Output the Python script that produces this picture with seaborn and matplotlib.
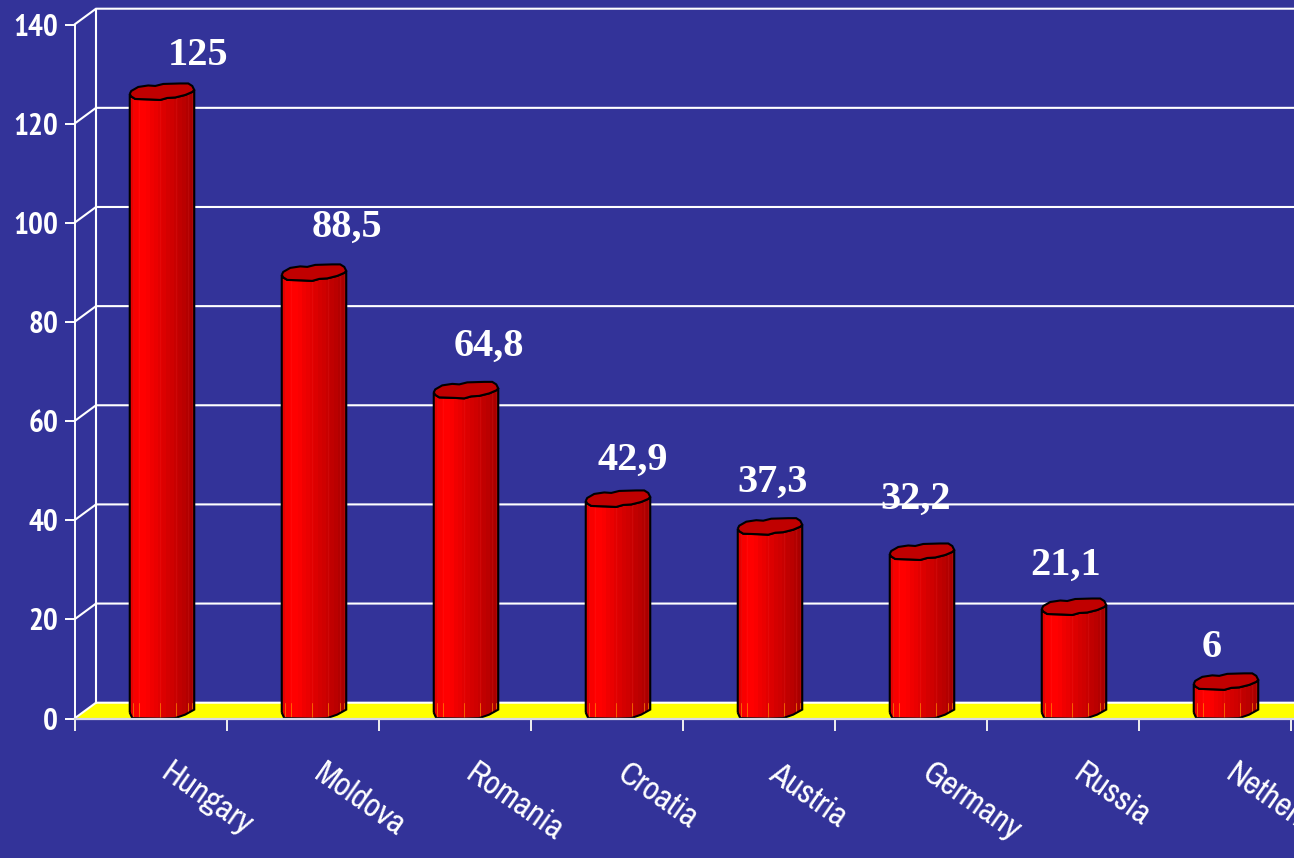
import numpy as np
import pandas as pd
import matplotlib
matplotlib.use("Agg")
import matplotlib.pyplot as plt
import seaborn as sns
from matplotlib.path import Path
from matplotlib.patches import PathPatch
from matplotlib.colors import to_rgb
from matplotlib.transforms import Affine2D, IdentityTransform

countries = ["Hungary", "Moldova", "Romania", "Croatia", "Austria", "Germany", "Russia", "Netherlands"]
values = [125, 88.5, 64.8, 42.9, 37.3, 32.2, 21.1, 6]
y_ticks = [0, 20, 40, 60, 80, 100, 120, 140]

# value label nudges from each cylinder's top, in pixels
label_dx = [37, 34, 24, 16, 3, -6, -8, -14]
label_dy = [35, 45, 43, 38, 43, 52, 41, 33]

NAVY = "#333399"
W, H, DPI = 1294, 858, 100
sns.set_theme(style="white", rc={"axes.facecolor": NAVY, "figure.facecolor": NAVY})
plt.rcParams["font.family"] = ["Archivo Narrow", "Liberation Sans"]
TICK_FONT = ["PT Sans Narrow", "Liberation Sans"]

fig = plt.figure(figsize=(W / DPI, H / DPI), dpi=DPI)
left, right, y0px, y140px = 74.5, 1294, 718.5, 24.5
ax = fig.add_axes([left / W, (H - y0px) / H, (right - left) / W, (y0px - y140px) / H])

PX_X = 152.0
PX_Y = (y0px - y140px) / 140
XMAX = -0.5 + (right - left) / PX_X
depth_x, depth_y = 21.5 / PX_X, 15.8 / PX_Y


def set_limits():
    ax.set_xlim(-0.5, XMAX)
    ax.set_ylim(0, 140)


df = pd.DataFrame({"country": countries, "value": values})
sns.barplot(data=df, x="country", y="value", color="#ff0000", saturation=1,
            width=64 / PX_X, ax=ax, zorder=4)
set_limits()

# back wall and floor of the oblique box
ax.fill([-0.5, XMAX + 1, XMAX + 1, -0.5 + depth_x], [0, 0, depth_y, depth_y],
        color="#ffff00", zorder=1, lw=0)
for t in y_ticks:
    ax.plot([-0.5, -0.5 + depth_x, XMAX + 1], [t, t + depth_y, t + depth_y],
            color="white", lw=1.5, zorder=2, clip_on=False, solid_joinstyle="miter")
ax.plot([-0.5 + depth_x] * 2, [depth_y, 140 + depth_y], color="white", lw=1.5, zorder=2, clip_on=False)

# cylinder outlines, pixel offsets with y pointing down
cap_top = [(-32.5, 2), (-31, -1), (-24, -5), (-14, -6.5), (-7, -6), (1, -8), (18, -8.5),
           (26, -8.5), (30, -6), (32, -2)]
cap_low = [(30, 0), (23, 3), (13, 5.5), (5, 6), (-2, 8), (-12, 7.5), (-27, 7), (-31, 4.5)]
base = [(-32.5, 2), (-30, 7.5), (-2, 8), (13, 7.5), (23, 4), (32, -1)]

stops = ["#e60000", "#f80000", "#ff0000", "#ff0000", "#fa0000", "#f00000", "#ea0000", "#e20000",
         "#dc0000", "#d40000", "#cf0000", "#c80000", "#c00000", "#ba0000", "#b20000", "#a80000"]
shade = np.array([[to_rgb(c) for c in stops]])
facets = [0.05, 0.13, 0.47, 0.72, 0.9, 0.97]

for bar, value in zip(list(ax.patches), values):
    # the seaborn bar stands at mid depth of the box
    bar.set_x(bar.get_x() + depth_x / 2 + 1 / PX_X)
    bar.set_y(depth_y / 2)
    bar.set_linewidth(0)
    cx = bar.get_x() + bar.get_width() / 2

    tx, ty = ax.transData.transform((cx, value + depth_y / 2))
    bx, by = ax.transData.transform((cx, depth_y / 2))
    ty -= 1
    to_screen_top = Affine2D().scale(1, -1).translate(tx, ty)
    to_screen_base = Affine2D().scale(1, -1).translate(bx, by)

    outline = np.vstack([to_screen_base.transform(base),
                         to_screen_top.transform([(32, -2)] + cap_low + [(-32.5, 2)])])
    body = Path(np.vstack([outline, outline[:1]]))
    bar.set_clip_path(body, IdentityTransform())

    image = ax.imshow(shade, extent=(bar.get_x(), bar.get_x() + bar.get_width(), -3, value + 6),
                      aspect="auto", interpolation="nearest", zorder=4.1)
    image.set_clip_path(body, IdentityTransform())
    set_limits()

    # facet seams: the floor glows through them near the base
    for f in facets:
        xf = bar.get_x() + f * bar.get_width()
        top_f = value + depth_y / 2
        low, = ax.plot([xf, xf], [0, min(depth_y, top_f)], color="#ff8a00", lw=0.7, alpha=0.7, zorder=4.2)
        low.set_clip_path(body, IdentityTransform())
        if top_f > depth_y:
            high, = ax.plot([xf, xf], [depth_y, top_f], color="#ff5050", lw=0.6, alpha=0.12, zorder=4.2)
            high.set_clip_path(body, IdentityTransform())

    ax.add_patch(PathPatch(body, fill=False, ec="black", lw=1.5, zorder=4.3, transform=IdentityTransform()))
    cap = Path(to_screen_top.transform(cap_top + cap_low + [(-32.5, 2)]))
    ax.add_patch(PathPatch(cap, fc="#c00000", ec="black", lw=1.5, zorder=4.4, transform=IdentityTransform()))
set_limits()

# value labels
for i, (value, dx, dy) in enumerate(zip(values, label_dx, label_dy)):
    ax.annotate(f"{value:g}".replace(".", ","),
                (i + depth_x / 2, value + depth_y / 2),
                xytext=(dx * 0.72, dy * 0.72), textcoords="offset points",
                ha="center", va="center", color="white", fontsize=29, fontweight="bold",
                family="Liberation Serif", zorder=6, annotation_clip=False)

# category labels sit low and slanted under each tick interval
for i, name in enumerate(countries):
    ax.annotate(name, (i, 0), xytext=(9 * 0.72, -59 * 0.72), textcoords="offset points",
                rotation=-35, rotation_mode="anchor", ha="left", va="baseline",
                color="white", fontsize=24, annotation_clip=False, zorder=6)

ax.set_xlabel("")
ax.set_ylabel("")
ax.set_xticks(np.arange(-0.5, XMAX, 1.0))
ax.set_xticklabels([])
ax.set_yticks(y_ticks)
ax.set_yticklabels([str(t) for t in y_ticks], fontweight="bold", fontsize=22.5, color="white", family=TICK_FONT)
ax.tick_params(axis="y", length=7.2, width=1.4, color="white", pad=4.5, left=True)
ax.tick_params(axis="x", length=8.6, width=1.4, color="#f0f0f0", bottom=True)
for side in ("top", "right"):
    ax.spines[side].set_visible(False)
ax.spines["left"].set_color("white")
ax.spines["left"].set_linewidth(1.4)
ax.spines["bottom"].set_color("#d8d8e8")
ax.spines["bottom"].set_linewidth(1.6)
for spine in ax.spines.values():
    spine.set_zorder(5)

fig.savefig("out.png", dpi=DPI, facecolor=NAVY)
